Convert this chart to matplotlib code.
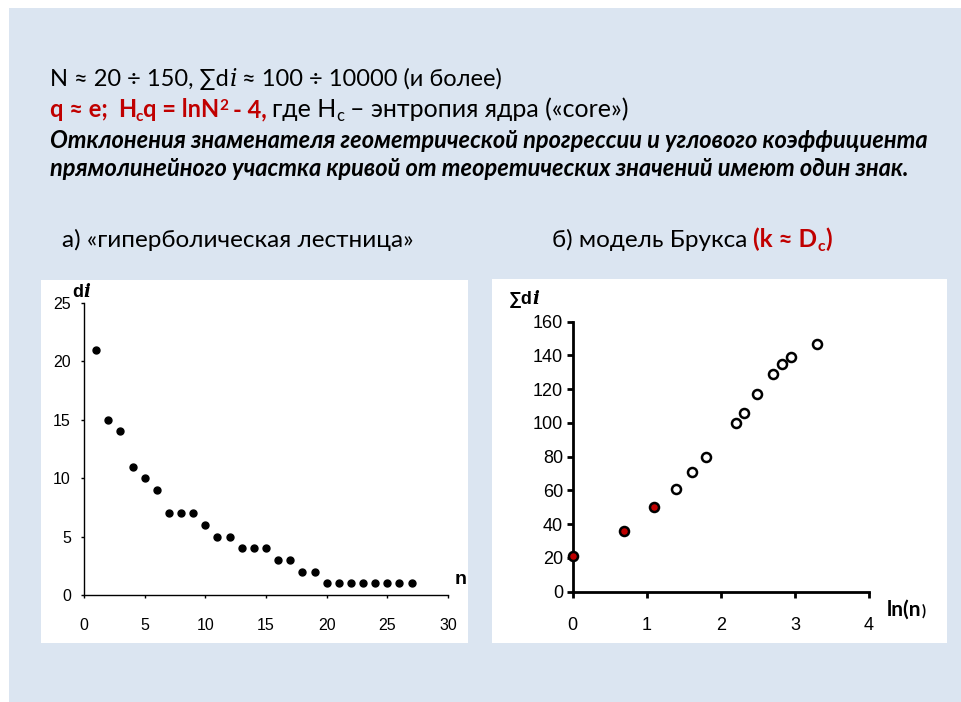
import matplotlib
matplotlib.use("Agg")
import matplotlib.pyplot as plt
from matplotlib.patches import Rectangle

W, H = 962, 702

# left chart: "hyperbolic ladder"
n_vals = list(range(1, 28))
d_vals = [21, 15, 14, 11, 10, 9, 7, 7, 7, 6, 5, 5, 4, 4, 4, 3, 3, 2, 2,
          1, 1, 1, 1, 1, 1, 1, 1]

# right chart: Brooks model
ln_n = [0.0, 0.69, 1.10, 1.39, 1.61, 1.80, 2.20, 2.31, 2.49, 2.71, 2.83, 2.95, 3.30]
sum_d = [21, 36, 50, 61, 71, 80, 100, 106, 117, 129, 135, 139, 147]
n_core = 3

left_xticks = [0, 5, 10, 15, 20, 25, 30]
left_yticks = [0, 5, 10, 15, 20, 25]
right_xticks = [0, 1, 2, 3, 4]
right_yticks = [0, 20, 40, 60, 80, 100, 120, 140, 160]

RED = "#c00000"
SLIDE = ["Lato", "DejaVu Sans"]
CHART = ["Liberation Sans", "DejaVu Sans"]
ITAL = ["DejaVu Serif"]


def fx(x):
    return x / W


def fy(y):
    return 1 - y / H


fig = plt.figure(figsize=(W / 100, H / 100), dpi=100)
fig.patch.set_facecolor("white")
renderer = fig.canvas.get_renderer()

fig.add_artist(Rectangle((fx(9), 0), fx(W - 9), fy(8), transform=fig.transFigure,
                         facecolor="#dbe5f1", edgecolor="none", zorder=-3))
fig.add_artist(Rectangle((fx(41), fy(643)), fx(468 - 41), (643 - 280) / H,
                         transform=fig.transFigure, facecolor="white",
                         edgecolor="none", zorder=-2))
fig.add_artist(Rectangle((fx(492), fy(643)), fx(947 - 492), (643 - 279) / H,
                         transform=fig.transFigure, facecolor="white",
                         edgecolor="none", zorder=-2))


def rich(x, y, pieces, size, family=SLIDE):
    # pieces: (text, color, weight, style, rel size, baseline shift px, gap before px)
    for s, color, weight, style, rel, dy, gap in pieces:
        x += gap
        fam = ITAL if s == "i" and style == "italic" else family
        t = fig.text(fx(x), fy(y + dy), s, color=color, fontweight=weight,
                     fontstyle=style, fontsize=size * rel, family=fam,
                     ha="left", va="baseline")
        x += t.get_window_extent(renderer).width
    return x


fs = 17
sp = 5
rich(50, 86, [
    ("N ≈ 20 ÷ 150, ∑d", "black", "normal", "normal", 1, 0, 0),
    ("i", "black", "normal", "italic", 1, 0, 1),
    ("≈ 100 ÷ 10000 (и более)", "black", "normal", "normal", 1, 0, sp),
], fs)
rich(50, 117, [
    ("q ≈ e;", RED, "bold", "normal", 1, 0, 0),
    ("H", RED, "bold", "normal", 1, 0, 2 * sp),
    ("c", RED, "bold", "normal", 0.65, 4, 0),
    ("q = lnN", RED, "bold", "normal", 1, 0, 0),
    ("2", RED, "bold", "normal", 0.65, -7, 0),
    ("- 4,", RED, "bold", "normal", 1, 0, sp),
    ("где H", "black", "normal", "normal", 1.06, 0, sp),
    ("c", "black", "normal", "normal", 0.7, 4, 0),
    ("– энтропия ядра («core»)", "black", "normal", "normal", 1.06, 0, sp + 1),
], fs)
rich(50, 148, [("Отклонения знаменателя геометрической прогрессии и углового коэффициента",
                "black", "bold", "italic", 1, 0, 0)], fs)
rich(50, 176, [("прямолинейного участка кривой от теоретических значений имеют один знак.",
                "black", "bold", "italic", 1, 0, 0)], fs)

rich(62, 247, [("а) «гиперболическая лестница»", "black", "normal", "normal", 1.03, 0, 0)], fs)
rich(552, 247, [
    ("б) модель Брукса", "black", "normal", "normal", 1.03, 0, 0),
    ("(k ≈ D", RED, "bold", "normal", 1.03, 0, sp + 1),
    ("c", RED, "bold", "normal", 0.67, 4, 0),
    (")", RED, "bold", "normal", 1.03, 0, 0),
], fs)

# left axes
ax1 = fig.add_axes([fx(84), fy(595), (448 - 84) / W, (595 - 303) / H])
ax1.set_facecolor("none")
ax1.plot(n_vals, d_vals, "o", color="black", ms=5, clip_on=False)
ax1.set_xlim(0, 30)
ax1.set_ylim(0, 25)
ax1.set_xticks(left_xticks)
ax1.set_yticks(left_yticks)
for s in ["top", "right"]:
    ax1.spines[s].set_visible(False)
for s in ["left", "bottom"]:
    ax1.spines[s].set_linewidth(1.0)
ax1.tick_params(axis="both", direction="out", length=2.5, width=1.0, labelsize=11.5)
ax1.tick_params(axis="x", pad=14)
ax1.tick_params(axis="y", pad=7)
for lab in ax1.get_xticklabels() + ax1.get_yticklabels():
    lab.set_family(CHART)
rich(72, 297, [("d", "black", "bold", "normal", 1, 0, 0),
               ("i", "black", "bold", "italic", 1, 0, 0)], 13, CHART)
fig.text(fx(455), fy(584), "n", fontsize=14, fontweight="bold", family=CHART, va="baseline")

# right axes
ax2 = fig.add_axes([fx(572.7), fy(591.7), (869 - 572.7) / W, 270 / H])
ax2.set_facecolor("none")
ax2.plot(ln_n[:n_core], sum_d[:n_core], "o", mfc=RED, mec="black", mew=1.8, ms=6.5,
         clip_on=False, zorder=3)
ax2.plot(ln_n[n_core:], sum_d[n_core:], "o", mfc="white", mec="black", mew=1.8, ms=6.5,
         clip_on=False, zorder=3)
ax2.set_xlim(0, 4)
ax2.set_ylim(0, 160)
ax2.set_xticks(right_xticks)
ax2.set_yticks(right_yticks)
for s in ["top", "right"]:
    ax2.spines[s].set_visible(False)
for s in ["left", "bottom"]:
    ax2.spines[s].set_linewidth(2.0)
ax2.tick_params(axis="both", direction="out", length=4, width=2.0, labelsize=13)
ax2.tick_params(axis="x", pad=14)
ax2.tick_params(axis="y", pad=3)
for lab in ax2.get_xticklabels() + ax2.get_yticklabels():
    lab.set_family(CHART)
rich(509, 304, [("∑d", "black", "bold", "normal", 1, 0, 0),
                ("i", "black", "bold", "italic", 1, 0, 0)], 13, CHART)
rich(887, 616, [("ln(n", "black", "bold", "normal", 1, 0, 0),
                (")", "black", "bold", "normal", 0.7, 0, 0)], 15)

fig.savefig("out.png", dpi=100)
